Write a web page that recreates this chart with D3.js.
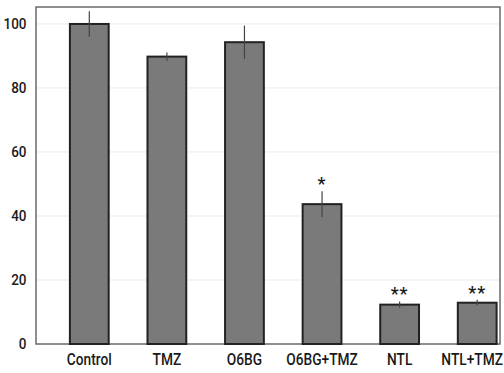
<!DOCTYPE html>
<html>
<head>
<meta charset="utf-8">
<script src="https://cdn.jsdelivr.net/npm/d3@7"></script>
<style>
	body { margin: 0; background: #fff; }
	svg text { font-family: "Roboto", sans-serif; font-weight: 500; fill: #1a1a1a; }
</style>
</head>
<body>
<div class="js-graph"></div>
<script>
var categories = ['Control', 'TMZ', 'O6BG', 'O6BG+TMZ', 'NTL', 'NTL+TMZ'],
	values = [100, 89.8, 94.3, 43.7, 12.3, 12.9],
	errors = [4, 1.3, 5.2, 4, 1, 0.9],
	marks = ['', '', '', '*', '**', '**'],
	yTicks = [0, 20, 40, 60, 80, 100];

(function(d3) {
	var w = 504, h = 373,
		left = 36, right = 500, top = 7, bottom = 344;

	var svg = d3.select('.js-graph').append('svg')
		.attr('width', w).attr('height', h);

	var y = d3.scaleLinear().domain([0, 105.3]).range([bottom, top]);
	var x = d3.scaleBand().domain(categories).range([50.5, 516])
		.paddingInner(0.5).paddingOuter(0.25);

	// gridlines
	svg.append('g')
		.selectAll('line')
		.data(yTicks.slice(1))
		.enter()
		.append('line')
		.attr('x1', left).attr('x2', right)
		.attr('y1', function(d) { return y(d); })
		.attr('y2', function(d) { return y(d); })
		.style('stroke', '#ebebeb');

	// frame
	svg.append('rect')
		.attr('x', left).attr('y', top)
		.attr('width', right - left).attr('height', bottom - top)
		.attr('fill', 'none')
		.style('stroke', '#6a6a6a')
		.style('stroke-width', 1.5);

	// y axis labels
	var yAxis = d3.axisLeft(y).tickValues(yTicks).tickSize(0).tickPadding(5);
	var ya = svg.append('g').attr('transform', 'translate(' + left + ',0)').call(yAxis);
	ya.select('.domain').remove();
	ya.selectAll('text')
		.style('font-size', '15px')
		.attr('transform', 'translate(-5,0) scale(0.9,1)');

	// x axis labels
	var xAxis = d3.axisBottom(x).tickSize(0).tickPadding(10);
	var xa = svg.append('g').attr('transform', 'translate(0,' + bottom + ')').call(xAxis);
	xa.select('.domain').remove();
	xa.selectAll('text')
		.style('font-size', '16px')
		.attr('transform', 'scale(0.86,1)')
		.each(function() {
			// keep the last label inside the picture
			var r = this.getBoundingClientRect();
			if (r.right > w - 1) {
				d3.select(this).attr('transform',
					'translate(' + (w - 1 - r.right) + ',0) scale(0.86,1)');
			}
		});

	var data = categories.map(function(c, i) {
		return { name: c, v: values[i], e: errors[i], m: marks[i] };
	});

	// bars
	svg.selectAll('rect.bar')
		.data(data)
		.enter()
		.append('rect')
		.attr('class', 'bar')
		.attr('x', function(d) { return x(d.name); })
		.attr('y', function(d) { return y(d.v); })
		.attr('width', x.bandwidth())
		.attr('height', function(d) { return y(0) - y(d.v); })
		.attr('fill', '#7a7a7a')
		.style('stroke', '#222')
		.style('stroke-width', 2);

	// error bars
	svg.selectAll('line.err')
		.data(data)
		.enter()
		.append('line')
		.attr('class', 'err')
		.attr('x1', function(d) { return x(d.name) + x.bandwidth() / 2; })
		.attr('x2', function(d) { return x(d.name) + x.bandwidth() / 2; })
		.attr('y1', function(d) { return y(d.v + d.e); })
		.attr('y2', function(d) { return y(d.v - d.e); })
		.style('stroke', '#444')
		.style('stroke-width', 1.2);

	// significance marks
	svg.selectAll('text.sig')
		.data(data)
		.enter()
		.append('text')
		.attr('class', 'sig')
		.attr('x', function(d) { return x(d.name) + x.bandwidth() / 2; })
		.attr('y', function(d) { return y(d.v + d.e) - 1; })
		.attr('text-anchor', 'middle')
		.style('font-size', '18px')
		.style('letter-spacing', '1px')
		.text(function(d) { return d.m; });
})(d3);
</script>
</body>
</html>
